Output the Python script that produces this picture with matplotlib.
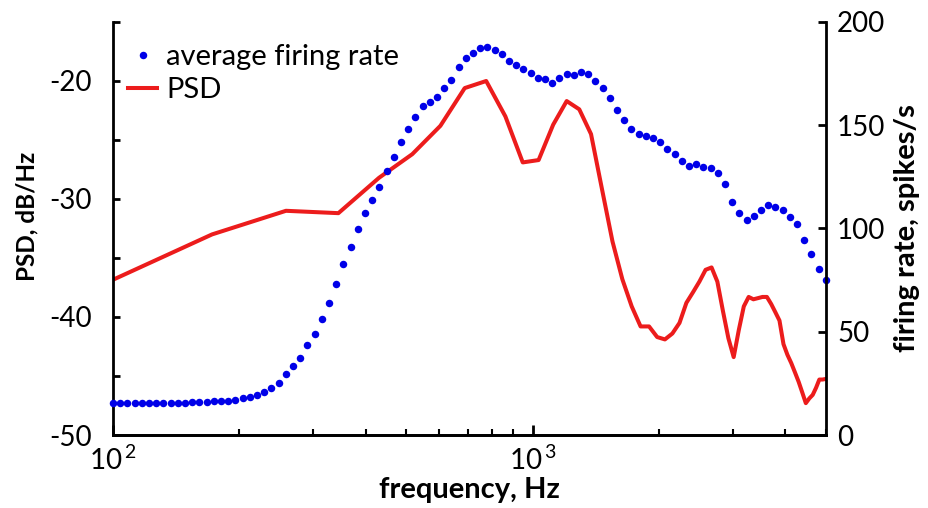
import matplotlib.pyplot as plt
import numpy as np
from matplotlib.ticker import MultipleLocator, NullFormatter, FuncFormatter, FixedFormatter, FixedLocator

plt.rcParams['font.family'] = ['Lato', 'DejaVu Sans']
plt.rcParams['mathtext.default'] = 'regular'
plt.rcParams['axes.unicode_minus'] = False

# average firing rate on a log-spaced grid from 100 Hz to 5 kHz (spikes/s)
rate_freq = np.geomspace(100, 5000, 100)
rate = [
    15.6, 15.6, 15.6, 15.3, 15.3, 15.3, 15.3, 15.5, 15.5, 15.6,
    15.6, 15.8, 16.0, 16.1, 16.3, 16.5, 16.6, 17.1, 17.7, 18.4,
    19.4, 20.8, 22.9, 25.0, 29.4, 33.4, 37.1, 43.4, 49.0, 56.1,
    63.7, 72.9, 82.6, 91.0, 99.7, 107.3, 113.7, 120.2, 127.9, 134.4,
    142.0, 148.0, 154.1, 159.5, 161.3, 163.5, 167.8, 171.8, 178.0, 182.8,
    185.2, 187.2, 188.0, 186.4, 184.4, 181.2, 179.1, 177.2, 175.4, 173.1,
    172.2, 170.5, 172.7, 174.6, 174.1, 175.8, 174.7, 171.5, 167.8, 163.3,
    157.5, 152.5, 148.0, 145.6, 144.7, 143.6, 141.7, 138.3, 135.9, 132.8,
    130.2, 131.0, 129.9, 129.1, 126.7, 121.5, 112.9, 107.3, 104.1, 106.0,
    109.2, 111.3, 110.5, 108.9, 105.4, 102.0, 94.4, 87.6, 80.6, 75.0,
]

# PSD on the FFT bins (44.1 kHz, 512 points), dB/Hz
psd_freq = 44100 / 512 * np.arange(1, 59)
psd_db = [
    -37.9, -33.0, -31.0, -31.2, -28.2, -26.2, -23.8, -20.6, -20.0, -23.0,
    -26.9, -26.7, -23.7, -21.7, -22.4, -24.5, -29.2, -33.6, -36.8, -39.1,
    -40.8, -40.8, -41.7, -41.9, -41.4, -40.5, -38.8, -37.9, -37.0, -36.0,
    -35.8, -37.0, -39.5, -41.8, -43.4, -41.1, -39.1, -38.3, -38.5, -38.4,
    -38.3, -38.3, -38.9, -39.6, -40.3, -42.3, -43.2, -43.9, -44.7, -45.5,
    -46.4, -47.3, -46.9, -46.6, -46.0, -45.3, -45.3, -45.25,
]

decade_ticks = [100, 1000]
decade_labels = [r'$10^{\,2}$', r'$10^{\,3}$']

fig = plt.figure(figsize=(9.29, 5.08), dpi=100)
ax = fig.add_axes([0.1216, 0.1437, 0.7674, 0.813])

line, = ax.plot(psd_freq, psd_db, color='#ec1c1c', lw=2.9, label='PSD')
ax.set_xscale('log')
ax.set_xlim(100, 5000)
ax.set_ylim(-50, -15)

ax2 = ax.twinx()
dots, = ax2.plot(rate_freq, rate, 'o', color='#0000e8', ms=5.4, mec='none',
                 clip_on=False, label='average firing rate')
ax2.set_ylim(0, 200)
ax2.yaxis.set_major_locator(MultipleLocator(50))

for a in (ax, ax2):
    a.spines['top'].set_visible(False)
    for s in a.spines.values():
        s.set_linewidth(2)
ax.spines['right'].set_visible(False)
ax2.spines['left'].set_visible(False)

ax.yaxis.set_major_locator(MultipleLocator(10))
ax.yaxis.set_minor_locator(MultipleLocator(5))
ax.yaxis.set_major_formatter(FuncFormatter(lambda v, p: '%d' % v))
ax.xaxis.set_major_locator(FixedLocator(decade_ticks))
ax.xaxis.set_major_formatter(FixedFormatter(decade_labels))
ax.xaxis.set_minor_formatter(NullFormatter())

ax.tick_params(axis='y', which='both', direction='in', length=5, width=2,
               labelsize=20, pad=15)
ax.tick_params(axis='x', which='major', direction='in', length=7, width=2,
               labelsize=20, pad=8)
ax.tick_params(axis='x', which='minor', direction='in', length=4, width=1.5)
ax2.tick_params(axis='y', direction='in', length=6, width=2, labelsize=20, pad=8)

ax.set_xlabel('frequency, Hz', fontsize=21, fontweight='bold', labelpad=1)
ax.set_ylabel('PSD, dB/Hz', fontsize=17.5, fontweight='bold', labelpad=8)
ax.yaxis.label.set_y(0.53)
ax2.set_ylabel('firing rate, spikes/s', fontsize=21, fontweight='bold', labelpad=6)

ax2.legend(handles=[dots, line], loc='upper left', bbox_to_anchor=(0.005, 0.975),
           frameon=False, fontsize=21, numpoints=1, handlelength=1.0,
           handletextpad=0.3, borderaxespad=0, labelspacing=0.25)

fig.savefig('out.png', dpi=100)
